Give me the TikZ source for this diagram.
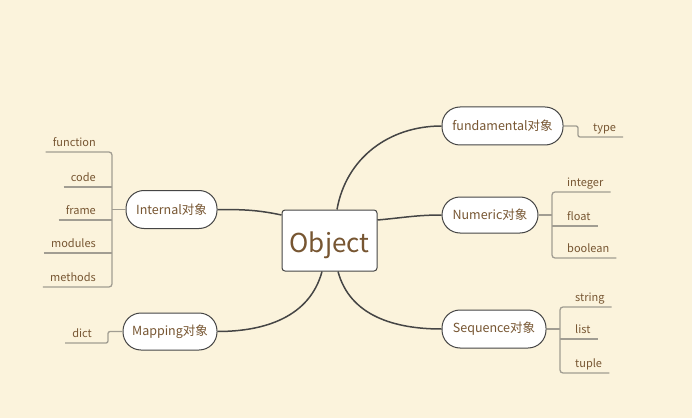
\documentclass[tikz,border=0pt]{standalone}
\usepackage{fontspec}
\newfontfamily\cjk{Noto Sans CJK SC}
\usetikzlibrary{calc}
\definecolor{paper}{HTML}{FBF3DC}
\definecolor{ink}{HTML}{775632}
\definecolor{edge}{HTML}{454545}
\definecolor{twig}{HTML}{A19D92}

\begin{document}
\begin{tikzpicture}[x=1pt,y=1pt,font=\cjk,
	root/.style={draw=edge,line width=1pt,fill=white,rounded corners=3pt,minimum width=95pt,minimum height=61pt,text height=24pt,text depth=0pt,text=ink,font=\cjk\fontsize{26}{28}\selectfont},
	topic/.style={draw=edge,line width=1pt,fill=white,rounded corners=18pt,minimum height=38pt,inner xsep=0pt,text=ink,font=\cjk\fontsize{12.5}{14}\selectfont},
	leaf/.style={inner xsep=7pt,inner ysep=5pt,text depth=0pt,text=ink,font=\cjk\fontsize{11}{12}\selectfont},
	branch/.style={draw=edge,line width=1.5pt},
	twigline/.style={draw=twig,line width=1.3pt}]
				\fill[paper] (0,0) rectangle (692,418);
				\useasboundingbox (0,0) rectangle (692,418);

				% centre and topics
				\node[root] (object) at (329.5,177.5) {Object};
				\node[topic,minimum width=91pt] (internal) at (171.5,208.5) {Internal对象};
				\node[topic,minimum width=94pt,minimum height=37pt] (mapping) at (170,86.5) {Mapping对象};
				\node[topic,minimum width=121pt] (fundamental) at (502.5,292) {fundamental对象};
				\node[topic,minimum width=96pt,minimum height=36pt] (numeric) at (490,203) {Numeric对象};
				\node[topic,minimum width=104pt] (sequence) at (494,89) {Sequence对象};

				\draw[branch] ($(object.north)+(7.5,0)$) to[out=80,in=180] (fundamental.west);
				\draw[branch] ($(object.east)+(0,20.5)$) to[out=5,in=180] (numeric.west);
				\draw[branch] ($(object.south)+(8.5,0)$) to[out=-75,in=180] (sequence.west);
				\draw[branch] ($(object.west)+(0,25.5)$) to[out=168,in=0] (internal.east);
				\draw[branch] ($(object.south)+(-7.5,0)$) to[out=-105,in=0] (mapping.east);

				% Internal leaves
				\coordinate (ibar) at (112,208.5);
				\draw[twigline] (internal.west) -- (ibar);
				\foreach \t/\y [count=\i] in {function/266,code/231,frame/198,modules/165,methods/131} {
					\node[leaf,anchor=south east] (int\i) at (103,\y) {\t};
				}
				\draw[twigline,rounded corners=3pt] (int1.south west) -- (int1.south west -| ibar) -- (int5.south west -| ibar) -- (int5.south west);
				\foreach \i in {2,3,4} {
					\draw[twigline] (int\i.south west) -- (int\i.south west -| ibar);
				}

				% Mapping leaf
				\coordinate (mbend) at (108,86.5);
				\node[leaf,anchor=south east] (dict) at (99,75) {dict};
				\draw[twigline,rounded corners=2pt] (mapping.west) -- (mbend) -- (mbend |- dict.south) -- (dict.south west);

				% fundamental leaf
				\coordinate (fbend) at (578,292);
				\node[leaf,anchor=south west] (type) at (586,281) {type};
				\draw[twigline,rounded corners=2pt] (fundamental.east) -- (fbend) -- (fbend |- type.south) -- (type.south east);

				% Numeric leaves
				\coordinate (nbar) at (552,203);
				\draw[twigline] (numeric.east) -- (nbar);
				\foreach \t/\y [count=\i] in {integer/226,float/192,boolean/160} {
					\node[leaf,anchor=south west] (num\i) at (560,\y) {\t};
				}
				\draw[twigline,rounded corners=3pt] (num1.south east) -- (num1.south west -| nbar) -- (num3.south west -| nbar) -- (num3.south east);
				\draw[twigline] (num2.south west -| nbar) -- (num2.south east);

				% Sequence leaves
				\coordinate (sbar) at (560,89);
				\draw[twigline] (sequence.east) -- (sbar);
				\foreach \t/\y [count=\i] in {string/111,list/79,tuple/45} {
					\node[leaf,anchor=south west] (seq\i) at (568,\y) {\t};
				}
				\draw[twigline,rounded corners=3pt] (seq1.south east) -- (seq1.south west -| sbar) -- (seq3.south west -| sbar) -- (seq3.south east);
				\draw[twigline] (seq2.south west -| sbar) -- (seq2.south east);
			\end{tikzpicture}
\end{document}
